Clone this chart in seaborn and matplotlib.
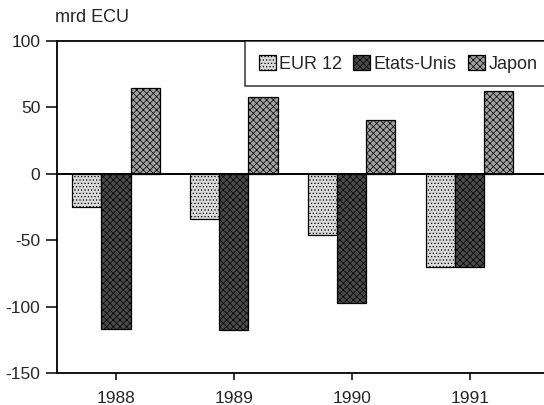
import matplotlib
matplotlib.use('Agg')
import matplotlib.pyplot as plt
from matplotlib.patches import Patch
import pandas as pd
import seaborn as sns

sns.set_style('white')
plt.rcParams['font.family'] = ['Liberation Sans', 'DejaVu Sans']
plt.rcParams['axes.unicode_minus'] = False
plt.rcParams['hatch.linewidth'] = 0.5

years = ['1988', '1989', '1990', '1991']
regions = ['EUR 12', 'Etats-Unis', 'Japon']
eur12 = [-25, -34, -46, -70]
usa = [-117, -117.5, -97, -70]
japon = [64.5, 57.5, 40.5, 62.5]

df = pd.DataFrame({
    'annee': years * 3,
    'zone': [r for r in regions for _ in years],
    'solde': eur12 + usa + japon,
})

colors = {'EUR 12': '#dadada', 'Etats-Unis': '#4a4a4a', 'Japon': '#a0a0a0'}
hatches = {'EUR 12': '.....', 'Etats-Unis': 'xxxxx', 'Japon': 'xxxxx'}

fig = plt.figure(figsize=(5.44, 4.05), dpi=100)
ax = fig.add_axes([57 / 544, 32 / 405, 487 / 544, 332 / 405])

sns.barplot(data=df, x='annee', y='solde', hue='zone', order=years,
            hue_order=regions, palette=colors, width=0.74, gap=0,
            edgecolor='black', linewidth=0.9, ax=ax, legend=False)

for cont, reg in zip(ax.containers, regions):
    for bar in cont:
        bar.set_hatch(hatches[reg])

ax.axhline(0, color='black', lw=1.4, zorder=5)
ax.set_ylim(-150, 100)
ax.set_xlim(-0.5, 3.63)
ax.set_yticks([-150, -100, -50, 0, 50, 100])
ax.set_xlabel('')
ax.set_ylabel('')
for s in ['left', 'bottom', 'top']:
    ax.spines[s].set_color('black')
    ax.spines[s].set_linewidth(1.3)
ax.spines['right'].set_visible(False)
ax.tick_params(axis='y', direction='out', length=8, width=1.1,
               color='black', labelsize=12.5, pad=4, left=True)
ax.tick_params(axis='x', direction='out', length=5, width=1.1,
               color='black', labelsize=12.5, pad=8, bottom=True)

ax.text(-0.005, 1.045, 'mrd ECU', transform=ax.transAxes, fontsize=13,
        ha='left', va='bottom')

handles = [Patch(facecolor=colors[r], edgecolor='black', hatch=hatches[r],
                 linewidth=0.9) for r in regions]
leg = ax.legend(handles, regions, loc='upper left', ncol=3,
                bbox_to_anchor=(188 / 487, 1.0), fontsize=13,
                frameon=True, fancybox=False, edgecolor='black',
                handlelength=0.95, handleheight=0.95, handletextpad=0.2,
                columnspacing=0.6, borderpad=0.75, borderaxespad=0.0)
leg.get_frame().set_linewidth(1.1)

fig.savefig('out.png', dpi=100)
